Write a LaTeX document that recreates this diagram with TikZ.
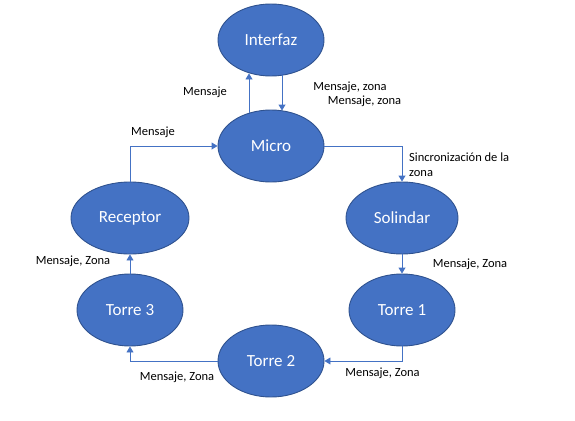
\documentclass[tikz,border=0pt]{standalone}
\usepackage{fontspec}
\setmainfont{Carlito}
\usetikzlibrary{shapes.geometric,arrows.meta,calc}
\definecolor{nodefill}{HTML}{4472C4}
\definecolor{nodeline}{HTML}{2F528F}
\definecolor{linkcol}{HTML}{4472C4}
\begin{document}
\begin{tikzpicture}[x=1pt,y=-1pt,
  state/.style={ellipse, draw=nodeline, line width=0.9pt, fill=nodefill, text=white,
    minimum width=106pt, minimum height=72pt, inner sep=0pt,
    font=\fontsize{17}{20}\selectfont},
  link/.style={draw=linkcol, line width=0.9pt, -{Triangle[width=7pt,length=6pt]}},
  lbl/.style={font=\fontsize{12.5}{15}\selectfont, text=black, inner sep=0pt}]
\useasboundingbox (0,0) rectangle (575,420);
\node[state] (Interfaz) at (271,40) {Interfaz};
\node[state] (Micro) at (271,146) {Micro};
\node[state, minimum width=112pt] (Solindar) at (402,218) {Solindar};
\node[state, minimum width=118pt] (Receptor) at (130,218) {Receptor};
\node[state] (Torre3) at (130,310) {Torre 3};
\node[state] (Torre1) at (402,310) {Torre 1};
\node[state] (Torre2) at (271,361) {Torre 2};

\draw[link, shorten <=-3pt, shorten >=-3pt] ([xshift=-22pt]Micro.north) -- ([xshift=-22pt]Micro.north |- Interfaz.south);
\draw[link, shorten <=-1pt, shorten >=-1pt] ([xshift=11pt]Interfaz.south) -- ([xshift=11pt]Interfaz.south |- Micro.north);
\draw[link] (Micro.east) -| (Solindar.north);
\draw[link] (Solindar) -- (Torre1);
\draw[link] (Torre1.south) |- (Torre2.east);
\draw[link] (Torre2.west) -| (Torre3.south);
\draw[link] (Torre3) -- (Receptor);
\draw[link] (Receptor.north) |- (Micro.west);

\node[lbl] (l1) at (205,92) {Mensaje};
\node[lbl] (l2) at (350,87) {Mensaje, zona};
\node[lbl] (l3) at (364.5,101) {Mensaje, zona};
\node[lbl, anchor=west, align=left] (l4) at (409,165) {Sincronización de la\\zona};
\node[lbl] (l5) at (470,264) {Mensaje, Zona};
\node[lbl] (l6) at (382.5,373) {Mensaje, Zona};
\node[lbl] (l7) at (177,377) {Mensaje, Zona};
\node[lbl] (l8) at (73,261) {Mensaje, Zona};
\node[lbl] (l9) at (153,132) {Mensaje};
\end{tikzpicture}
\end{document}
